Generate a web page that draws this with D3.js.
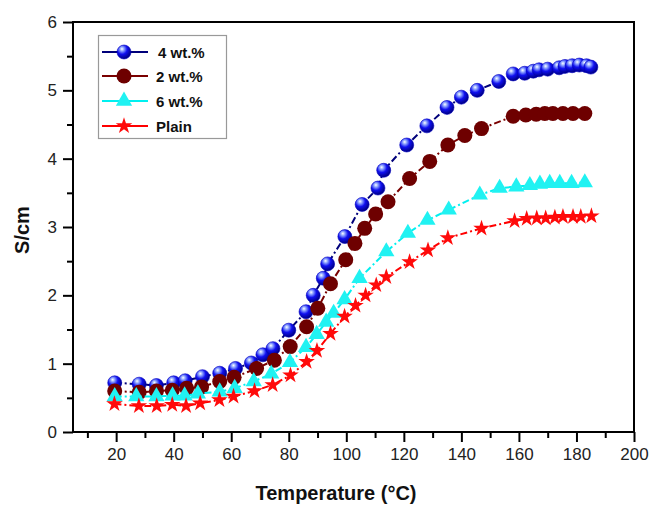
<!DOCTYPE html>
<html><head><meta charset="utf-8">
<script src="https://cdn.jsdelivr.net/npm/d3@7"></script>
<style>html,body{margin:0;padding:0;background:#fff;}svg{display:block;}</style>
</head><body>
<svg id="chart" width="663" height="518"></svg>
<script>
// ---- data ----
const seriesNames = ["4 wt.%", "2 wt.%", "6 wt.%", "Plain"];
const temp4 = [19.5, 28, 34, 40, 44, 50, 56, 61.5, 67, 71, 74.5, 80, 86, 88.5, 92, 93.5, 99.5, 105.5, 111, 113, 121, 128, 135, 140, 145.5, 153, 158, 162, 165, 167, 170, 174, 176, 178.5, 181, 183.5, 185];
const val4  = [0.72, 0.70, 0.68, 0.72, 0.75, 0.81, 0.86, 0.93, 1.01, 1.13, 1.22, 1.49, 1.76, 2.00, 2.25, 2.46, 2.86, 3.33, 3.57, 3.83, 4.20, 4.48, 4.75, 4.90, 5.00, 5.13, 5.24, 5.25, 5.28, 5.30, 5.31, 5.33, 5.35, 5.36, 5.37, 5.36, 5.34];
const temp2 = [19.5, 28, 34, 39.5, 44.5, 49.7, 56, 61, 68.8, 75, 80.5, 86.2, 90.1, 94.5, 99.8, 103, 106.4, 110.2, 114.5, 122, 129, 135.3, 141.2, 147, 158, 162.4, 166, 169, 171.8, 175.3, 178.8, 182.9];
const val2  = [0.60, 0.58, 0.60, 0.61, 0.64, 0.66, 0.74, 0.80, 0.93, 1.05, 1.25, 1.54, 1.81, 2.17, 2.52, 2.76, 2.98, 3.19, 3.37, 3.71, 3.96, 4.20, 4.34, 4.44, 4.62, 4.64, 4.65, 4.66, 4.66, 4.66, 4.66, 4.66];
const temp6 = [19.5, 27, 34, 39.6, 43.8, 48.4, 56, 61.2, 67.8, 73.9, 80.4, 86, 89.7, 93, 95.6, 99.4, 104.6, 113.9, 121.4, 128.2, 135.6, 146.4, 153.3, 159.1, 163.8, 167.3, 170.7, 174.2, 178.3, 182.9];
const val6  = [0.52, 0.52, 0.52, 0.53, 0.53, 0.56, 0.59, 0.64, 0.74, 0.85, 1.02, 1.24, 1.43, 1.61, 1.74, 1.94, 2.25, 2.64, 2.91, 3.10, 3.25, 3.47, 3.57, 3.59, 3.61, 3.63, 3.64, 3.64, 3.64, 3.65];
const tempPlain = [19.4, 27.9, 34.1, 39.5, 44.3, 49.2, 55.9, 60.8, 68.1, 74.4, 80.6, 86.2, 89.8, 94.5, 99.4, 103.2, 106.7, 110.4, 113.9, 122, 128.4, 135.3, 147, 158.5, 162.7, 166.2, 169.3, 172.5, 175.3, 178.8, 181.5, 185.2];
const valPlain  = [0.41, 0.38, 0.38, 0.40, 0.38, 0.42, 0.47, 0.52, 0.60, 0.69, 0.83, 1.03, 1.19, 1.44, 1.69, 1.85, 2.00, 2.15, 2.27, 2.49, 2.66, 2.84, 2.98, 3.09, 3.12, 3.13, 3.13, 3.14, 3.15, 3.15, 3.15, 3.16];
const xTickLabels = [20, 40, 60, 80, 100, 120, 140, 160, 180, 200];
const xMinorTicks = [10, 30, 50, 70, 90, 110, 130, 150, 170, 190];
const yTickLabels = [0, 1, 2, 3, 4, 5, 6];
const yMinorTicks = [0.5, 1.5, 2.5, 3.5, 4.5, 5.5];
const xTitle = "Temperature (°C)";
const yTitle = "S/cm";

// ---- layout ----
const L = 73, R = 634, T = 22, B = 432;
const font = "'Liberation Sans', Arial, sans-serif";
const svg = d3.select("#chart");
const x = d3.scaleLinear().domain([5, 200]).range([L, R]);
const y = d3.scaleLinear().domain([0, 6]).range([B, T]);

// gradient for blue spheres
const defs = svg.append("defs");
const g = defs.append("radialGradient").attr("id", "sphere")
  .attr("cx", "38%").attr("cy", "32%").attr("r", "65%").attr("fx", "35%").attr("fy", "28%");
g.append("stop").attr("offset", "0%").attr("stop-color", "#ffffff");
g.append("stop").attr("offset", "22%").attr("stop-color", "#8fa6ff");
g.append("stop").attr("offset", "55%").attr("stop-color", "#1010f0");
g.append("stop").attr("offset", "100%").attr("stop-color", "#00008a");

// axes
const xMajor = svg.append("g").attr("transform", `translate(0,${B})`)
  .call(d3.axisBottom(x).tickValues(xTickLabels).tickSize(10).tickPadding(6).tickFormat(d3.format("d")));
const xMin = svg.append("g").attr("transform", `translate(0,${B})`)
  .call(d3.axisBottom(x).tickValues(xMinorTicks).tickSize(6).tickFormat(""));
const yMajor = svg.append("g").attr("transform", `translate(${L},0)`)
  .call(d3.axisLeft(y).tickValues(yTickLabels).tickSize(10).tickPadding(6).tickFormat(d3.format("d")));
const yMin = svg.append("g").attr("transform", `translate(${L},0)`)
  .call(d3.axisLeft(y).tickValues(yMinorTicks).tickSize(6).tickFormat(""));
[xMajor, xMin, yMajor, yMin].forEach(a => {
  a.select(".domain").remove();
  a.selectAll(".tick line").attr("stroke", "#000").attr("stroke-width", 2);
  a.selectAll("text").attr("font-family", font).attr("font-size", 17).attr("fill", "#222");
});
// frame
svg.append("rect").attr("x", L).attr("y", T).attr("width", R - L).attr("height", B - T)
  .attr("fill", "none").attr("stroke", "#000").attr("stroke-width", 2);

// titles
svg.append("text").attr("x", 336).attr("y", 500).attr("text-anchor", "middle")
  .attr("font-family", font).attr("font-weight", "bold").attr("font-size", 20).attr("fill", "#111").text(xTitle);
svg.append("text").attr("transform", `translate(29,230) rotate(-90)`).attr("text-anchor", "middle")
  .attr("font-family", font).attr("font-weight", "bold").attr("font-size", 20).attr("fill", "#111").text(yTitle);

// series
const series = [
  {name: seriesNames[0], t: temp4, v: val4, line: "#00007a", kind: "sphere"},
  {name: seriesNames[1], t: temp2, v: val2, line: "#7a0000", kind: "circle", fill: "#6e0000"},
  {name: seriesNames[2], t: temp6, v: val6, line: "#00f0f0", kind: "triangle", fill: "#20f2f2"},
  {name: seriesNames[3], t: tempPlain, v: valPlain, line: "#ff0000", kind: "star", fill: "#ff0a0a"}
];
function drawMarker(sel, s) {
  if (s.kind === "sphere") {
    sel.append("circle").attr("r", 7).attr("fill", "url(#sphere)").attr("stroke", "#0000c0").attr("stroke-width", 0.6);
  } else if (s.kind === "circle") {
    sel.append("circle").attr("r", 7.5).attr("fill", s.fill);
  } else if (s.kind === "triangle") {
    sel.append("path").attr("d", d3.symbol(d3.symbolTriangle, 115)()).attr("fill", s.fill);
  } else {
    sel.append("path").attr("d", d3.symbol(d3.symbolStar, 85)()).attr("fill", s.fill);
  }
}
const line = d3.line().x(d => x(d[0])).y(d => y(d[1]));
series.forEach(s => {
  const pts = s.t.map((t, i) => [t, s.v[i]]);
  svg.append("path").attr("d", line(pts)).attr("fill", "none").attr("stroke", s.line)
    .attr("stroke-width", 2).attr("stroke-dasharray", "7,3,2,3");
  svg.append("g").selectAll("g").data(pts).join("g")
    .attr("transform", d => `translate(${x(d[0])},${y(d[1])})`)
    .each(function() { drawMarker(d3.select(this), s); });
});

// legend
const lg = svg.append("g");
lg.append("rect").attr("x", 98.5).attr("y", 35.5).attr("width", 128).attr("height", 103)
  .attr("fill", "#fff").attr("stroke", "#999").attr("stroke-width", 1.2);
const legY = [52, 76, 101, 126];
series.forEach((s, i) => {
  const row = lg.append("g").attr("transform", `translate(0,${legY[i]})`);
  row.append("line").attr("x1", 102).attr("x2", 148).attr("y1", 0).attr("y2", 0)
    .attr("stroke", s.line).attr("stroke-width", 2);
  drawMarker(row.append("g").attr("transform", "translate(124,0)"), s);
  row.append("text").attr("x", i === 0 ? 158 : 156).attr("y", 5.5)
    .attr("font-family", font).attr("font-weight", "bold").attr("font-size", 15).attr("fill", "#111").text(s.name);
});
</script>
</body></html>
